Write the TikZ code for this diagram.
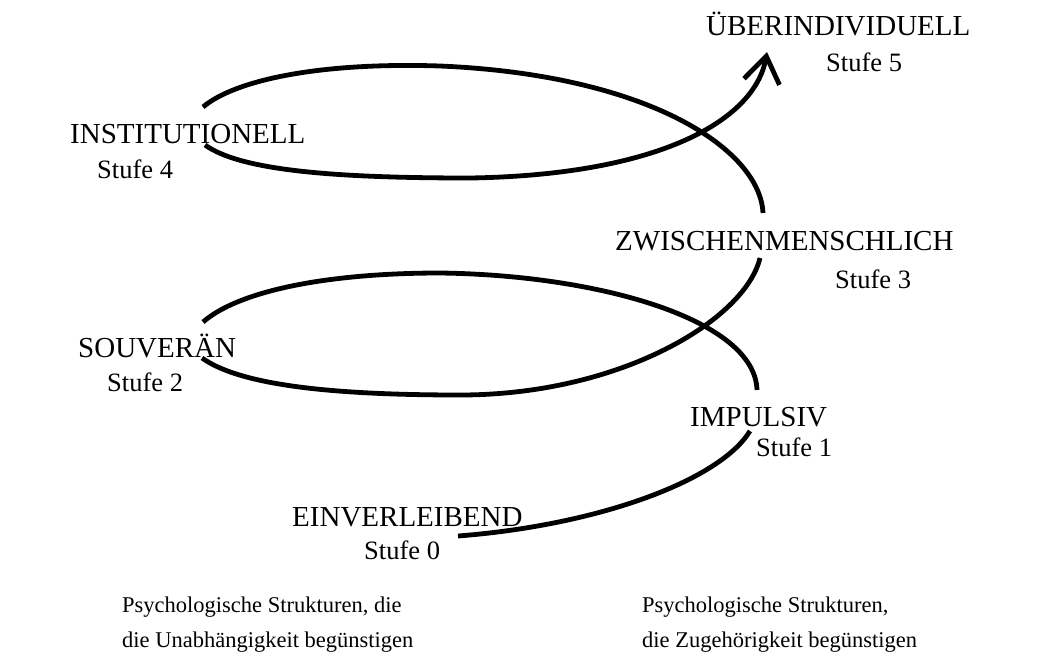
\documentclass[tikz,border=0pt]{standalone}
\usepackage{fontspec}
\setmainfont{Liberation Serif}
\usetikzlibrary{arrows.meta}
\begin{document}
\begin{tikzpicture}[x=1pt,y=-1pt,
  spiral/.style={line width=4.8pt,line cap=butt},
  lbl/.style={anchor=base west,inner sep=0pt},
  caps/.style={lbl,font=\fontsize{29}{33}\selectfont},
  stufe/.style={lbl,font=\fontsize{26.5}{30}\selectfont},
  foot/.style={lbl,font=\fontsize{22.5}{27}\selectfont},
  tip/.style={-{Straight Barb[length=26pt,width=36pt,line width=4.8pt]}}]
\useasboundingbox (0,0) rectangle (1039,659);
% labels
\node[caps] (l5) at (706,35) {ÜBERINDIVIDUELL};
\node[stufe] (s5) at (826,71) {Stufe 5};
\node[caps] (l4) at (70,143) {INSTITUTIONELL};
\node[stufe] (s4) at (97,178) {Stufe 4};
\node[caps] (l3) at (615,250) {ZWISCHENMENSCHLICH};
\node[stufe] (s3) at (835,288) {Stufe 3};
\node[caps] (l2) at (78,357) {SOUVERÄN};
\node[stufe] (s2) at (107,391) {Stufe 2};
\node[caps] (l1) at (690,426) {IMPULSIV};
\node[stufe] (s1) at (756,456) {Stufe 1};
\node[caps] (l0) at (292,526) {EINVERLEIBEND};
\node[stufe] (s0) at (364,559) {Stufe 0};
\node[foot] (b1) at (122,612) {Psychologische Strukturen, die};
\node[foot] (b2) at (122,647) {die Unabhängigkeit begünstigen};
\node[foot] (b3) at (642,612) {Psychologische Strukturen,};
\node[foot] (b4) at (642,647) {die Zugehörigkeit begünstigen};
% spiral anchor points
\coordinate (p0) at (458,536);
\coordinate (p1a) at (750,431);
\coordinate (p1b) at (757,390);
\coordinate (top2) at (440,273);
\coordinate (p2a) at (203,322);
\coordinate (p2b) at (202,358);
\coordinate (bot2) at (460,395);
\coordinate (p3a) at (760,258);
\coordinate (p3b) at (763,213);
\coordinate (top4) at (440,66);
\coordinate (p4a) at (203,107);
\coordinate (p4b) at (205,145);
\coordinate (bot4) at (470,178);
\coordinate (p5) at (767,52);
% spiral
\draw[spiral] (p0) .. controls (600,525) and (720,480) .. (p1a);
\draw[spiral] (p1b) .. controls (755,320) and (600,275) .. (top2)
  .. controls (330,273) and (240,290) .. (p2a);
\draw[spiral] (p2b) .. controls (240,385) and (330,395) .. (bot2)
  .. controls (620,395) and (745,320) .. (p3a);
\draw[spiral] (p3b) .. controls (760,150) and (650,75) .. (top4)
  .. controls (320,62) and (235,80) .. (p4a);
\draw[spiral,tip] (p4b) .. controls (240,170) and (330,178) .. (bot4)
  .. controls (660,175) and (755,120) .. (p5);
\end{tikzpicture}
\end{document}
